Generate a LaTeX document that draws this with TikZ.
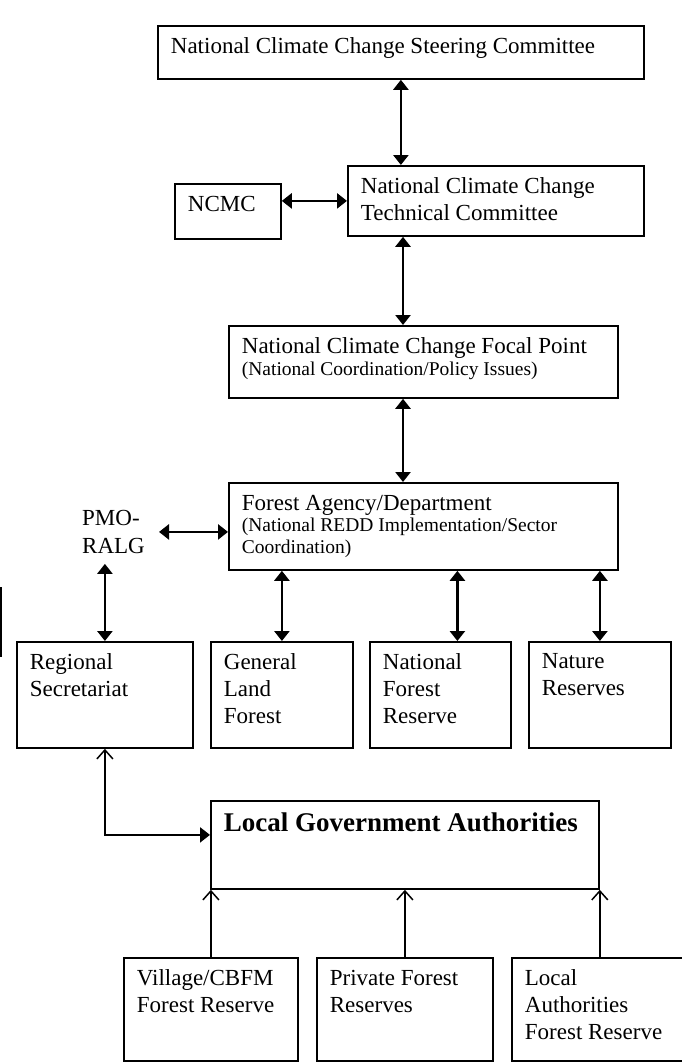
\documentclass[tikz,border=0pt]{standalone}
\usepackage{fontspec}
\setmainfont{Liberation Serif}
\usetikzlibrary{arrows.meta}
\tikzset{
    org-box/.style = {draw=black, line width=1.8pt, rectangle, anchor=north west, inner xsep=13pt, inner ysep=12pt, font=\fontsize{23}{27}\selectfont},
    org-label/.style = {anchor=north west, inner xsep=14pt, inner ysep=10pt, align=left, font=\fontsize{23}{28}\selectfont},
    both-arrow/.style = {{Triangle[width=15pt,length=10pt]}-{Triangle[width=15pt,length=10pt]}, line width=2.6pt},
    up-arrow/.style = {-{Straight Barb[width=16pt,length=9pt,line width=1.5pt]}, line width=2.2pt},
}

\begin{document}
\begin{tikzpicture}[x=1pt,y=-1pt]
\useasboundingbox (0,0) rectangle (681,1062);
\node[org-box] (steer) at (157,25) {\begin{minipage}[c][29pt][t]{460pt}\raggedright
    National Climate Change Steering Committee
\end{minipage}};
\node[org-box] (tech) at (347,165) {\begin{minipage}[c][46pt][t]{270pt}\raggedright
    National Climate Change\\Technical Committee
\end{minipage}};
\node[org-box] (ncmc) at (174,183) {\begin{minipage}[c][31pt][t]{80pt}\raggedright
    NCMC
\end{minipage}};
\node[org-box] (focal) at (228,325) {\begin{minipage}[c][48pt][t]{363pt}\raggedright
    National Climate Change Focal Point\par
    {\fontsize{19.5}{22}\selectfont (National Coordination/Policy Issues)\par}
\end{minipage}};
\node[org-box] (forest) at (228,482) {\begin{minipage}[c][63pt][t]{363pt}\raggedright
    Forest Agency/Department\par
    {\fontsize{19.5}{21.5}\selectfont (National REDD Implementation/Sector\\Coordination)\par}
\end{minipage}};
\node[org-label] (pmo) at (68,500) {PMO-\\RALG};
\node[org-box] (regional) at (16,641) {\begin{minipage}[c][82pt][t]{150pt}\raggedright
    Regional\\Secretariat
\end{minipage}};
\node[org-box] (gland) at (210,641) {\begin{minipage}[c][82pt][t]{116pt}\raggedright
    General\\Land\\Forest
\end{minipage}};
\node[org-box] (nfr) at (369,641) {\begin{minipage}[c][82pt][t]{115pt}\raggedright
    National\\Forest\\Reserve
\end{minipage}};
\node[org-box] (nature) at (528,641) {\begin{minipage}[c][82pt][t]{116pt}\raggedright
    Nature\\Reserves
\end{minipage}};
\node[org-box] (lga) at (210,800) {\begin{minipage}[c][64pt][t]{362pt}\raggedright
    \fontsize{27}{32}\selectfont\bfseries Local Government Authorities
\end{minipage}};
\node[org-box] (village) at (123,957) {\begin{minipage}[c][79pt][t]{148pt}\raggedright
    Village/CBFM\\Forest Reserve
\end{minipage}};
\node[org-box] (private) at (316,957) {\begin{minipage}[c][79pt][t]{150pt}\raggedright
    Private Forest\\Reserves
\end{minipage}};
\node[org-box] (localauth) at (511,957) {\begin{minipage}[c][79pt][t]{154pt}\raggedright
    Local\\Authorities\\Forest Reserve
\end{minipage}};
\coordinate (spine) at (403,0);

\draw[both-arrow] (steer.south) -- (steer.south |- tech.north);
\draw[both-arrow] (tech.west -| ncmc.east) -- (tech.west);
\draw[both-arrow] (tech.south -| spine) -- (focal.north -| spine);
\draw[both-arrow] (focal.south -| spine) -- (forest.north -| spine);
\draw[both-arrow] (pmo.east) -- (pmo.east -| forest.west);
\draw[both-arrow] (pmo.south -| regional.north) -- (regional.north);
\draw[both-arrow] (forest.south -| gland.north) -- (gland.north);
\draw[both-arrow] ([xshift=17pt]forest.south -| nfr.north) -- ([xshift=17pt]nfr.north);
\draw[both-arrow] (forest.south -| nature.north) -- (nature.north);
\draw[{Straight Barb[width=16pt,length=9pt,line width=1.5pt]}-{Triangle[width=15pt,length=10pt]}, line width=2.2pt]
    (regional.south) |- ([yshift=10pt]lga.west);
\draw[up-arrow] (village.north) -- (village.north |- lga.south);
\draw[up-arrow] (private.north) -- (private.north |- lga.south);
\draw[up-arrow] (lga.south east |- localauth.north) -- (lga.south east);
\draw[line width=1.8pt] (1,587) -- (1,657);
\end{tikzpicture}
\end{document}
